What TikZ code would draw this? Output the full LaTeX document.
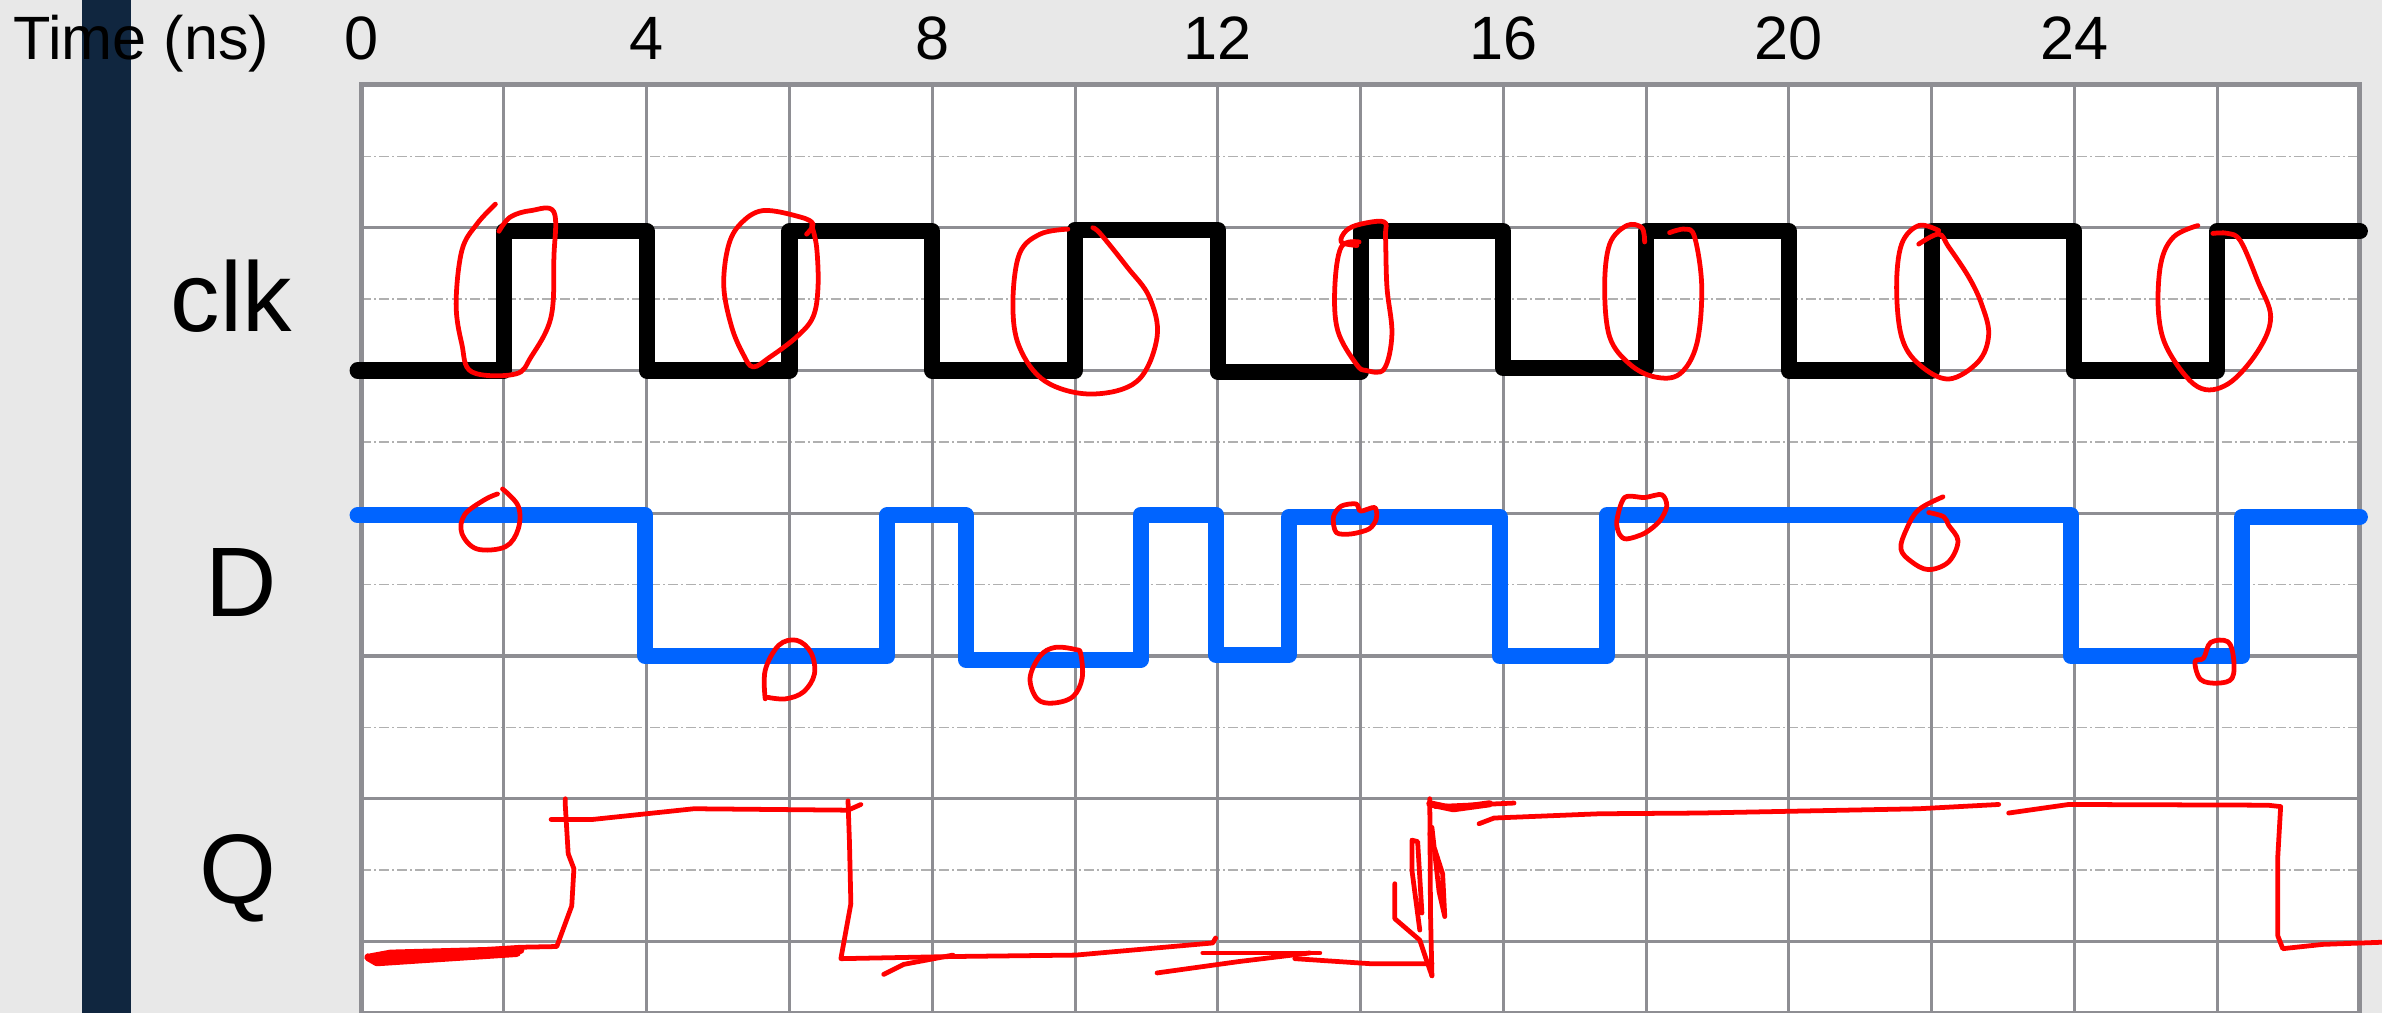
\documentclass[tikz,border=0pt]{standalone}
\usepackage{fontspec}
\setmainfont{Liberation Sans}
\usepackage{tikz}

\definecolor{panelgray}{RGB}{232,232,232}
\definecolor{navybar}{RGB}{16,38,63}
\definecolor{gridmajor}{RGB}{142,142,147}
\definecolor{gridminor}{RGB}{176,176,176}
\definecolor{dblue}{RGB}{0,100,255}

\begin{document}
\begin{tikzpicture}[
        x=0.5cm, y=0.5cm,
        minorline/.style={draw=gridminor, line width=0.3pt, dash pattern=on 2pt off 0.6pt on 0.4pt off 0.6pt},
        majorline/.style={draw=gridmajor, line width=0.6pt},
        border/.style={draw=gridmajor, line width=1pt},
        wave/.style={line width=3.2pt, line join=round, line cap=round},
        ink/.style={draw=red, line width=0.95pt, line join=round, line cap=round},
        axislabel/.style={font=\fontsize{12.2}{14}\selectfont, anchor=base, inner sep=0pt},
        signame/.style={font=\fontsize{19.7}{23}\selectfont, anchor=base, inner sep=0pt}
    ]

    % Background
    \fill[panelgray] (-5.06,0) rectangle (28.31,14.19);
    \useasboundingbox (-5.06,0) rectangle (28.31,14.19);
    \fill[navybar] (-3.91,0) rectangle (-3.22,14.19);
    \fill[white] (0,0) rectangle (28,13);

    % Grid
    \draw[minorline] (0,0) grid (28,13);
    \draw[majorline] (0,0) grid[xstep=2, ystep=20] (28,13);
    \foreach \y in {1,3,...,11}
        \draw[majorline] (0,\y) -- (28,\y);
    \draw[border] (0,0) -- (0,13) -- (28,13) -- (28,0);

    % Labels
    \node[axislabel, anchor=base west] (time) at (-4.89,13.36) {Time (ns)};
    \node[axislabel] (t0) at (0,13.36) {0};
    \node[axislabel] (t4) at (4,13.36) {4};
    \node[axislabel] (t8) at (8,13.36) {8};
    \node[axislabel] (t12) at (12,13.36) {12};
    \node[axislabel] (t16) at (16,13.36) {16};
    \node[axislabel] (t20) at (20,13.36) {20};
    \node[axislabel] (t24) at (24,13.36) {24};
    \node[signame] (clk) at (-1.82,9.54) {clk};
    \node[signame] (d) at (-1.68,5.55) {D};
    \node[signame] (q) at (-1.72,1.53) {Q};

    % Signals
    \draw[wave, black] (-0.05,9) -- (2,9) -- (2,10.95) -- (4,10.95) -- (4,9) -- (6,9) -- (6,10.95) -- (8,10.95) -- (8,9) -- (10,9)
        -- (10,10.97) -- (12,10.97) -- (12,8.98) -- (14,8.98) -- (14,10.95) -- (16,10.95) -- (16,9.03) -- (18,9.03)
        -- (18,10.95) -- (20,10.95) -- (20,9) -- (22,9) -- (22,10.95) -- (24,10.95) -- (24,9) -- (26,9) -- (26,10.95) -- (28,10.95);
    \draw[wave, dblue] (-0.05,6.97) -- (3.98,6.97) -- (3.98,5) -- (7.37,5) -- (7.37,6.97) -- (8.47,6.97) -- (8.47,4.95)
        -- (10.92,4.95) -- (10.92,6.98) -- (11.97,6.98) -- (11.97,5.02) -- (13.0,5.02) -- (13.0,6.95) -- (15.95,6.95)
        -- (15.95,5) -- (17.45,5) -- (17.45,6.97) -- (23.95,6.97) -- (23.95,5) -- (26.35,5) -- (26.35,6.95) -- (28,6.95);

    % Marks on clk edges
    \draw[ink] plot[smooth, tension=0.6] coordinates {(1.88,11.33) (1.62,11.05) (1.41,10.68) (1.33,9.93) (1.41,9.37) (1.55,8.98)
        (2.16,8.95) (2.38,9.19) (2.66,9.75) (2.70,10.59) (2.70,11.22) (2.38,11.24) (2.09,11.15) (1.93,10.95)};
    \draw[ink] plot[smooth, tension=0.6] coordinates {(6.24,10.91) (6.33,11.05) (6.15,11.15) (5.63,11.24) (5.31,11.05) (5.14,10.73)
        (5.08,10.17) (5.19,9.61) (5.35,9.23) (5.49,9.05) (5.73,9.19) (6.10,9.47) (6.33,9.75) (6.40,10.17) (6.38,10.73) (6.31,11.03)};
    \draw[ink] plot[smooth, tension=0.6] coordinates {(9.90,10.98) (9.51,10.91) (9.22,10.63) (9.13,9.93) (9.22,9.33) (9.58,8.85)
        (10.22,8.67) (10.87,8.85) (11.15,9.47) (11.04,10.03) (10.73,10.45) (10.36,10.91) (10.25,11.0)};
    \draw[ink] plot[smooth, tension=0.6] coordinates {(13.98,10.80) (13.73,10.73) (13.64,10.17) (13.68,9.56) (13.94,9.09) (14.08,9.0)
        (14.33,9.02) (14.44,9.51) (14.37,10.17) (14.35,10.87) (14.33,11.08) (14.0,11.05) (13.8,10.96) (13.73,10.8) (13.95,10.75)};
    \draw[ink] plot[smooth, tension=0.6] coordinates {(17.98,10.80) (17.94,11.0) (17.73,11.03) (17.49,10.77) (17.42,10.17) (17.49,9.47)
        (17.77,9.09) (18.12,8.91) (18.47,8.95) (18.71,9.37) (18.78,10.17) (18.68,10.87) (18.54,10.98) (18.33,10.93)};
    \draw[ink] plot[smooth, tension=0.6] coordinates {(22.10,10.96) (21.82,11.03) (21.58,10.77) (21.51,10.17) (21.58,9.47) (21.82,9.09)
        (22.24,8.88) (22.66,9.13) (22.80,9.51) (22.70,9.93) (22.52,10.31) (22.24,10.73) (22.10,10.91) (21.82,10.77)};
    \draw[ink] plot[smooth, tension=0.6] coordinates {(25.73,11.03) (25.39,10.87) (25.21,10.49) (25.18,9.79) (25.32,9.27) (25.73,8.77)
        (26.15,8.81) (26.57,9.27) (26.75,9.75) (26.57,10.25) (26.33,10.81) (26.15,10.92) (25.94,10.92)};

    % Marks on D
    \draw[ink] plot[smooth, tension=0.6] coordinates {(1.98,7.34) (2.2,7.1) (2.2,6.78) (2.02,6.53) (1.62,6.5) (1.41,6.72)
        (1.45,6.98) (1.73,7.19) (1.91,7.27)};
    \draw[ink] plot[smooth, tension=0.6] coordinates {(5.66,4.4) (5.66,4.8) (5.85,5.15) (6.1,5.22) (6.3,5.05) (6.35,4.75)
        (6.2,4.5) (5.95,4.4) (5.7,4.42)};
    \draw[ink] plot[smooth cycle, tension=0.6] coordinates {(10.01,5.09) (9.72,5.12) (9.51,5.0) (9.37,4.69) (9.47,4.40)
        (9.69,4.34) (9.97,4.43) (10.10,4.69) (10.08,5.03)};
    \draw[ink] plot[smooth cycle, tension=0.5] coordinates {(13.66,6.73) (13.62,6.95) (13.73,7.1) (13.94,7.13) (14.0,7.03)
        (14.2,7.08) (14.22,6.92) (14.12,6.78) (13.87,6.71)};
    \draw[ink] plot[smooth cycle, tension=0.5] coordinates {(17.63,6.70) (17.59,6.89) (17.7,7.22) (17.98,7.22) (18.22,7.26)
        (18.29,7.10) (18.19,6.89) (17.98,6.72) (17.73,6.64)};
    \draw[ink] plot[smooth, tension=0.6] coordinates {(22.16,7.23) (21.82,7.05) (21.65,6.78) (21.57,6.5) (21.72,6.32) (21.96,6.21)
        (22.24,6.32) (22.37,6.61) (22.24,6.83) (22.17,6.95) (21.96,7.01)};
    \draw[ink] plot[smooth cycle, tension=0.6] coordinates {(25.81,4.97) (25.91,5.19) (26.15,5.2) (26.23,4.97) (26.21,4.69)
        (26.01,4.62) (25.77,4.67) (25.69,4.92)};

    % Q sketch
    \draw[ink, line width=1.6pt] (0.10,0.78) -- (0.22,0.71) -- (2.18,0.84);
    \draw[ink, line width=1.6pt] (0.14,0.78) -- (0.41,0.83) -- (2.23,0.88);
    \draw[ink] (0.41,0.80) -- (2.23,0.92) -- (2.74,0.93) -- (2.95,1.5) -- (2.98,2.02) -- (2.9,2.23) -- (2.86,2.9) -- (2.86,3.0);
    \draw[ink] (2.66,2.71) -- (3.24,2.71) -- (4.66,2.86) -- (6.82,2.84) -- (7.0,2.92);
    \draw[ink] (6.82,2.97) -- (6.84,2.4) -- (6.86,1.53) -- (6.72,0.76) -- (8.29,0.79) -- (10.01,0.81) -- (11.93,0.98) -- (11.97,1.05);
    \draw[ink] (7.32,0.54) -- (7.6,0.68) -- (8.29,0.81);
    \draw[ink] (11.15,0.56) -- (12.3,0.72) -- (13.29,0.84);
    \draw[ink] (11.79,0.84) -- (13.43,0.84);
    \draw[ink] (13.08,0.76) -- (14.13,0.69) -- (15.0,0.69);
    \draw[ink] (14.48,1.81) -- (14.48,1.32) -- (14.83,1.02) -- (14.92,0.75) -- (15.0,0.52);
    \draw[ink] (15.0,0.52) -- (14.98,1.4) -- (14.97,3.0);
    \draw[ink] (14.83,1.16) -- (14.72,2.0) -- (14.72,2.42) -- (14.8,2.4) -- (14.86,1.4);
    \draw[ink] (14.97,2.51) -- (15.15,1.95) -- (15.18,1.35) -- (15.1,1.7) -- (15.0,2.6);
    \draw[ink, line width=1.4pt] (14.97,2.93) -- (15.3,2.86) -- (15.81,2.93);
    \draw[ink] (15.05,2.89) -- (16.15,2.94);
    \draw[ink] (15.66,2.65) -- (15.87,2.73) -- (17.35,2.79) -- (18.75,2.80) -- (21.82,2.86) -- (22.94,2.92);
    \draw[ink] (23.08,2.80) -- (23.92,2.92) -- (26.71,2.91) -- (26.89,2.89) -- (26.85,2.19) -- (26.85,1.08) -- (26.92,0.9)
        -- (27.48,0.96) -- (28.31,0.99);

\end{tikzpicture}
\end{document}
